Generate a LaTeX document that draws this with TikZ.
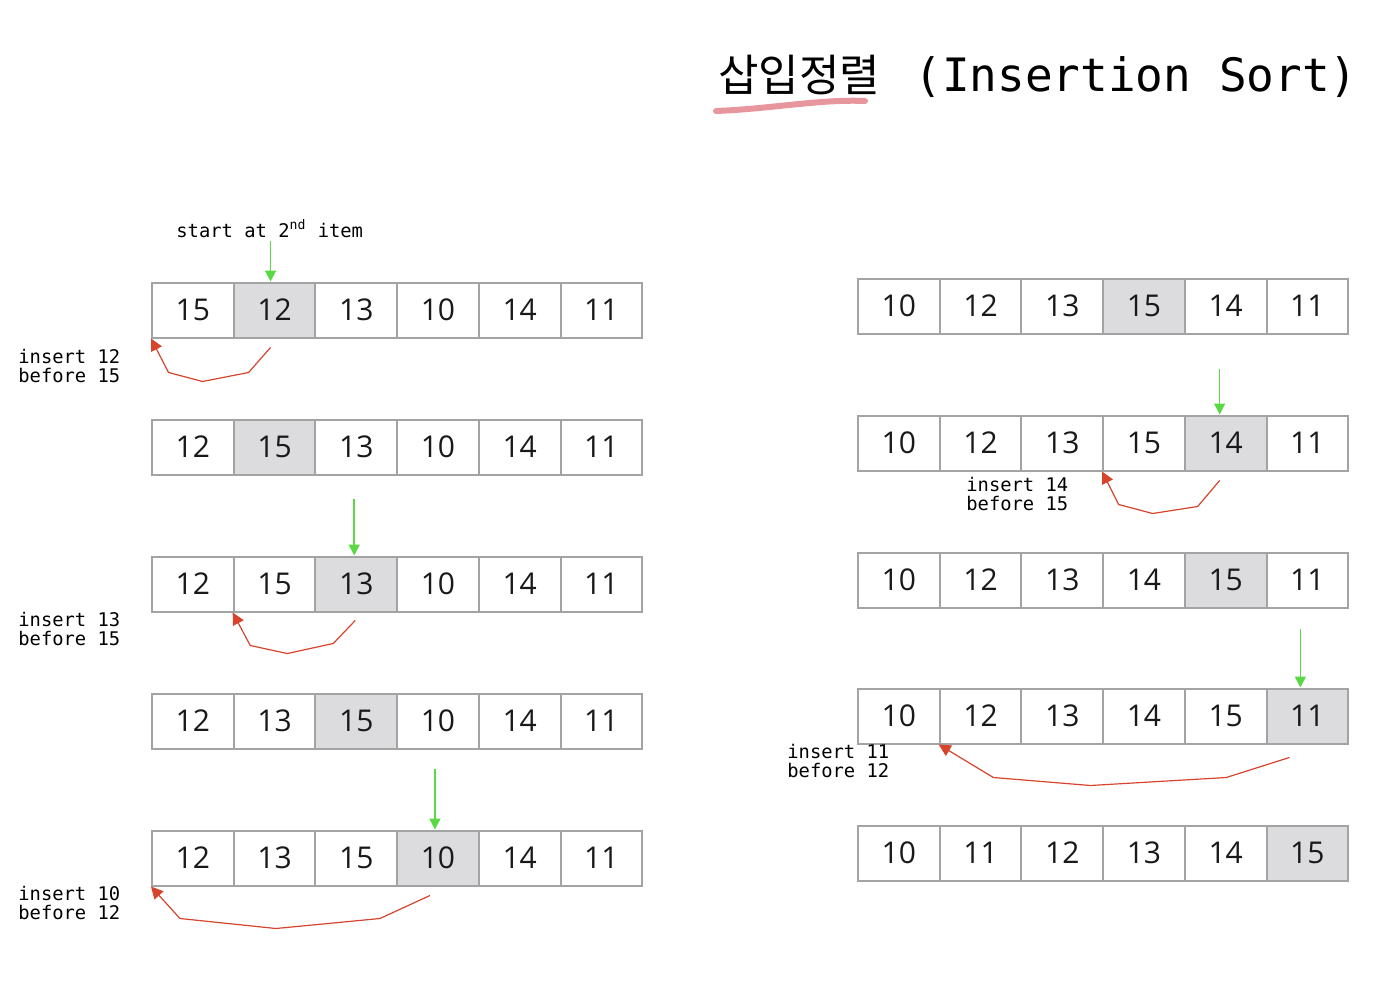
\documentclass[tikz,border=0pt]{standalone}
\usepackage{fontspec}
\setmainfont{Open Sans}
\setmonofont{DejaVu Sans Mono}
\newfontfamily\hangul{Noto Sans CJK KR}
\usetikzlibrary{arrows.meta, calc}

\definecolor{cellgray}{HTML}{DCDCDF}
\definecolor{edgegray}{HTML}{A3A3A3}
\definecolor{pointgreen}{HTML}{5AD845}
\definecolor{moveorange}{HTML}{D6442C}
\definecolor{markpink}{HTML}{E8969E}

\tikzset{
  cell/.style={draw=edgegray, line width=1pt, fill=white, minimum width=40.85pt,
    minimum height=27.5pt, inner sep=0pt, text=black!90, font=\fontsize{15}{15}\selectfont},
  note/.style={anchor=north west, align=left, inner sep=0pt,
    font=\ttfamily\fontsize{9.4}{9.6}\selectfont},
  pointer/.style={draw=pointgreen, line width=0.8pt, -{Triangle[length=5.5pt, width=5.5pt]}},
  moveback/.style={draw=moveorange, line width=0.6pt, line join=round,
    -{Triangle[length=6pt, width=6pt]}},
  marker/.style={draw=markpink, line width=3pt, line cap=round},
}

% one row of the array: name, left x, centre y, key index, values
\newcommand{\arrayrow}[5]{%
  \foreach \v [count=\i] in {#5} {
    \ifnum\i=#4\relax \def\cellfill{cellgray}\else\def\cellfill{white}\fi
    \node[cell, fill=\cellfill] (#1-\i) at ({#2+81.7*(\i-0.5)}, #3) {\v};
  }%
}

\begin{document}
\begin{tikzpicture}[x=0.5pt, y=-0.5pt]
  \useasboundingbox (0,0) rectangle (1398,1006);

  % Title
  \node[anchor=base west, inner sep=0pt, font=\hangul\fontsize{22}{22}\selectfont] (titleko) at (718,92) {삽입정렬};
  \node[anchor=base west, inner sep=0pt, font=\ttfamily\fontsize{23}{23}\selectfont] (titleen) at (914,92) {(Insertion Sort)};
  \draw[marker] (716,111) .. controls (770,109) and (820,99) .. (865,101);

  % Left column
  \arrayrow{L1}{152}{310}{2}{15,12,13,10,14,11}
  \arrayrow{L2}{152}{447}{2}{12,15,13,10,14,11}
  \arrayrow{L3}{152}{584}{3}{12,15,13,10,14,11}
  \arrayrow{L4}{152}{721}{3}{12,13,15,10,14,11}
  \arrayrow{L5}{152}{858}{4}{12,13,15,10,14,11}

  % Right column
  \arrayrow{R1}{858}{306}{4}{10,12,13,15,14,11}
  \arrayrow{R2}{858}{443}{5}{10,12,13,15,14,11}
  \arrayrow{R3}{858}{580}{5}{10,12,13,14,15,11}
  \arrayrow{R4}{858}{716}{6}{10,12,13,14,15,11}
  \arrayrow{R5}{858}{853}{6}{10,11,12,13,14,15}

  % Start markers
  \node[note] (start) at (176,219) {start at 2\textsuperscript{nd} item};
  \draw[pointer] ([xshift=-2pt, yshift=20.5pt]L1-2.north) -- ([xshift=-2pt]L1-2.north);
  \draw[pointer] ([xshift=-1pt, yshift=28.5pt]L3-3.north) -- ([xshift=-1pt]L3-3.north);
  \draw[pointer] ([xshift=-1.5pt, yshift=30.5pt]L5-4.north) -- ([xshift=-1.5pt]L5-4.north);
  \draw[pointer] ([xshift=-3pt, yshift=23pt]R2-5.north) -- ([xshift=-3pt]R2-5.north);
  \draw[pointer] ([xshift=-3.5pt, yshift=29.5pt]R4-6.north) -- ([xshift=-3.5pt]R4-6.north);

  % Insert moves
  \draw[moveback] ([xshift=-2pt, yshift=-4.5pt]L1-2.south) -- ++(-22,25) -- ++(-46,9) -- ++(-34,-9) -- (L1-1.south west);
  \node[note] (n1) at (18,349) {insert 12\\before 15};

  \draw[moveback] ([xshift=-0.5pt, yshift=-4pt]L3-3.south) -- ++(-22,23) -- ++(-46,10) -- ++(-37,-8) -- (L3-2.south west);
  \node[note] (n3) at (18,612) {insert 13\\before 15};

  \draw[moveback] ([xshift=-4pt, yshift=-4.5pt]L5-4.south) -- ++(-50,23) -- ++(-104,10) -- ++(-96,-10) -- (L5-1.south west);
  \node[note] (n5) at (18,886) {insert 10\\before 12};

  \draw[moveback] ([xshift=-3pt, yshift=-4.5pt]R2-5.south) -- ++(-22,26) -- ++(-45,7) -- ++(-34,-9) -- (R2-4.south west);
  \node[note] (n7) at (966,477) {insert 14\\before 15};

  \draw[moveback] ([xshift=-9pt, yshift=-6.5pt]R4-6.south) -- ++(-63,20) -- ++(-136,8) -- ++(-97,-8) -- (R4-2.south west);
  \node[note] (n9) at (787,744) {insert 11\\before 12};
\end{tikzpicture}
\end{document}
